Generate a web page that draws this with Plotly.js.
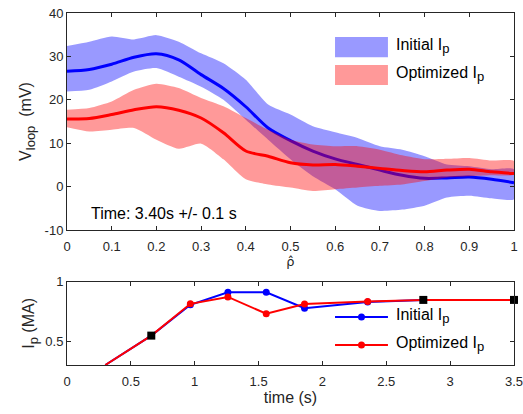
<!DOCTYPE html>
<html>
<head>
<meta charset="utf-8">
<script src="https://cdn.plot.ly/plotly-3.0.1.min.js"></script>
<style>html,body{margin:0;padding:0;background:#fff;}#chart{width:523px;height:414px;}</style>
</head>
<body>
<div id="chart"></div>
<script>
// ---- Top panel: loop voltage profiles at t = 3.40 s ----
const rho = [0,0.05,0.1,0.15,0.2,0.25,0.3,0.35,0.4,0.45,0.5,0.55,0.6,0.65,0.7,0.75,0.8,0.85,0.9,0.95,1];
const initialMean  = [26.6,27.0,28.2,29.8,30.6,29.2,25.8,22.6,18.4,13.5,10.6,8.2,6.4,5.1,3.8,2.6,1.9,2.0,2.2,1.7,0.9];
const initialUpper = [32.4,33.4,34.6,33.9,34.9,33.4,30.7,28.4,24.6,18.9,16.6,13.9,12.5,11.2,9.3,8.5,7.0,5.1,4.7,4.0,4.0];
const initialLower = [21.9,22.3,24.2,26.5,27.3,25.3,23.0,20.0,15.4,10.8,6.3,2.4,-0.6,-4.4,-5.6,-5.3,-4.4,-2.5,-2.1,-2.7,-2.9];
const optimMean  = [15.6,15.7,16.6,17.7,18.4,17.6,15.8,12.4,8.2,7.0,5.5,5.0,5.1,4.7,4.2,3.7,3.4,3.8,4.0,3.4,3.0];
const optimUpper = [17.7,18.1,19.6,22.3,23.7,22.7,20.4,18.5,15.8,13.1,10.8,9.7,9.3,9.3,8.5,7.2,6.3,6.4,6.6,6.0,5.9];
const optimLower = [13.7,12.7,13.1,13.5,10.8,8.7,9.9,6.3,1.7,0.5,-0.2,-1.0,-0.6,-0.2,0.2,0.5,1.3,2.1,2.4,2.6,2.8];
const rhoTicks = [0,0.1,0.2,0.3,0.4,0.5,0.6,0.7,0.8,0.9,1];
const vTicks = [-10,0,10,20,30,40];

// ---- Bottom panel: plasma current waveforms ----
const tInitial  = [0.3,0.66,0.966,1.26,1.56,1.86,2.354,2.79,3.5];
const ipInitial = [0.3,0.547,0.806,0.911,0.911,0.778,0.830,0.847,0.847];
const tOptim    = [0.3,0.66,0.966,1.26,1.56,1.86,2.354,2.79,3.5];
const ipOptim   = [0.3,0.547,0.814,0.872,0.731,0.812,0.833,0.847,0.847];
const tFixed  = [0.66,2.79,3.5];
const ipFixed = [0.547,0.847,0.847];
const tTicks = [0,0.5,1,1.5,2,2.5,3,3.5];
const ipTicks = [0.5,1];

const seriesNames = ['Initial I<sub><span style="font-size:13px">p</span></sub>',
                     'Optimized I<sub><span style="font-size:13px">p</span></sub>'];
const bandColors = ['rgba(0,0,255,0.4)', 'rgba(255,0,0,0.4)'];
const lineColors = ['#0000ff', '#ff0000'];

const FONT = 'Liberation Sans, Arial, sans-serif';
const AX = '#262626';

function band(x, up, lo) {
  return {x: x.concat(x.slice().reverse()), y: up.concat(lo.slice().reverse())};
}
const bI = band(rho, initialUpper, initialLower);
const bO = band(rho, optimUpper, optimLower);

function dots(t, v) {
  const xs = [], ys = [];
  t.forEach((tt, i) => { if (tt > 0.8 && tt < 2.6) { xs.push(tt); ys.push(v[i]); } });
  return {x: xs, y: ys};
}
const dI = dots(tInitial, ipInitial);
const dO = dots(tOptim, ipOptim);

const traces = [
  {x: bI.x, y: bI.y, type: 'scatter', mode: 'lines', fill: 'toself',
   fillcolor: bandColors[0], line: {width: 0, shape: 'spline', smoothing: 0.6},
   name: 'Initial Ip', showlegend: false, xaxis: 'x', yaxis: 'y', hoverinfo: 'skip'},
  {x: rho, y: initialMean, type: 'scatter', mode: 'lines',
   line: {color: lineColors[0], width: 3, shape: 'spline', smoothing: 0.8}, showlegend: false, xaxis: 'x', yaxis: 'y'},
  {x: bO.x, y: bO.y, type: 'scatter', mode: 'lines', fill: 'toself',
   fillcolor: bandColors[1], line: {width: 0, shape: 'spline', smoothing: 0.6},
   name: 'Optimized Ip', showlegend: false, xaxis: 'x', yaxis: 'y', hoverinfo: 'skip'},
  {x: rho, y: optimMean, type: 'scatter', mode: 'lines',
   line: {color: lineColors[1], width: 3, shape: 'spline', smoothing: 0.8}, showlegend: false, xaxis: 'x', yaxis: 'y'},

  // bottom panel
  {x: tInitial, y: ipInitial, type: 'scatter', mode: 'lines', line: {color: lineColors[0], width: 2},
   showlegend: false, xaxis: 'x2', yaxis: 'y2'},
  {x: dI.x, y: dI.y, type: 'scatter', mode: 'markers',
   marker: {color: lineColors[0], size: 7}, showlegend: false, xaxis: 'x2', yaxis: 'y2'},
  {x: tOptim, y: ipOptim, type: 'scatter', mode: 'lines', line: {color: lineColors[1], width: 2},
   showlegend: false, xaxis: 'x2', yaxis: 'y2'},
  {x: dO.x, y: dO.y, type: 'scatter', mode: 'markers',
   marker: {color: lineColors[1], size: 7}, showlegend: false, xaxis: 'x2', yaxis: 'y2'},
  {x: tFixed, y: ipFixed, type: 'scatter', mode: 'markers', marker: {color: '#000000', symbol: 'square', size: 8},
   showlegend: false, xaxis: 'x2', yaxis: 'y2', cliponaxis: false}
];

const axBase = {
  showline: true, linecolor: AX, linewidth: 1, mirror: 'ticks', ticks: 'inside', ticklen: 4,
  tickcolor: AX, showgrid: false, zeroline: false, ticklabeloverflow: 'allow',
  tickfont: {family: FONT, size: 13, color: AX}
};

// legend keys (drawn as shapes in paper coordinates) + legend labels
const shapes = [];
const annotations = [
  {text: 'Time: 3.40s +/- 0.1 s', xref: 'x', yref: 'y', x: 0.05, y: -6.2, xanchor: 'left', yanchor: 'middle',
   showarrow: false, font: {family: FONT, size: 16, color: '#000'}}
];
const keyX0 = 0.5996, keyX1 = 0.718, labelX = 0.732;
const topKeyY = [0.903, 0.824];
const botKeyY = [0.1365, 0.057];
for (let i = 0; i < 2; i++) {
  shapes.push({type: 'rect', xref: 'paper', yref: 'paper', x0: keyX0, x1: keyX1,
    y0: topKeyY[i] - 0.0285, y1: topKeyY[i] + 0.0285, fillcolor: bandColors[i], line: {width: 0}});
  annotations.push({text: seriesNames[i], xref: 'paper', yref: 'paper', x: labelX, y: topKeyY[i] + 0.002,
    xanchor: 'left', yanchor: 'middle', showarrow: false, font: {family: FONT, size: 16, color: '#000'}});
  shapes.push({type: 'line', xref: 'paper', yref: 'paper', x0: keyX0, x1: keyX1,
    y0: botKeyY[i], y1: botKeyY[i], line: {color: lineColors[i], width: 2}});
  shapes.push({type: 'circle', xref: 'paper', yref: 'paper', xsizemode: 'pixel', ysizemode: 'pixel',
    xanchor: (keyX0 + keyX1) / 2, yanchor: botKeyY[i], x0: -3.5, x1: 3.5, y0: -3.5, y1: 3.5,
    fillcolor: lineColors[i], line: {width: 0}});
  annotations.push({text: seriesNames[i], xref: 'paper', yref: 'paper', x: labelX, y: botKeyY[i] + 0.002,
    xanchor: 'left', yanchor: 'middle', showarrow: false, font: {family: FONT, size: 16, color: '#000'}});
}

const layout = {
  width: 523, height: 414,
  margin: {l: 67, r: 9, t: 13, b: 49},
  paper_bgcolor: '#fff', plot_bgcolor: '#fff',
  font: {family: FONT, color: AX},
  showlegend: false,
  xaxis: Object.assign({}, axBase, {domain: [0, 1], anchor: 'y', range: [0, 1],
    tickvals: rhoTicks, ticktext: rhoTicks.map(String), ticklabelstandoff: 4,
    title: {text: 'ρ̂', font: {family: 'DejaVu Sans, sans-serif', size: 13, color: AX}, standoff: 0}}),
  yaxis: Object.assign({}, axBase, {domain: [0.3835, 1], anchor: 'x', range: [-10, 40],
    tickvals: vTicks, ticktext: vTicks.map(String),
    title: {text: 'V<sub><span style="font-size:13px">loop</span></sub>  (mV)', font: {family: FONT, size: 16, color: AX}, standoff: 8}}),
  xaxis2: Object.assign({}, axBase, {domain: [0, 1], anchor: 'y2', range: [0, 3.5],
    tickvals: tTicks, ticktext: tTicks.map(String), ticklabelstandoff: 4,
    title: {text: 'time (s)', font: {family: FONT, size: 16, color: AX}, standoff: 4}}),
  yaxis2: Object.assign({}, axBase, {domain: [0, 0.2366], anchor: 'x2', range: [0.3, 1],
    tickvals: ipTicks, ticktext: ipTicks.map(String),
    title: {text: 'I<sub><span style="font-size:13px">p</span></sub> (MA)', font: {family: FONT, size: 16, color: AX}, standoff: 6}}),
  shapes: shapes,
  annotations: annotations
};

Plotly.newPlot('chart', traces, layout, {displayModeBar: false, staticPlot: true});
</script>
</body>
</html>
